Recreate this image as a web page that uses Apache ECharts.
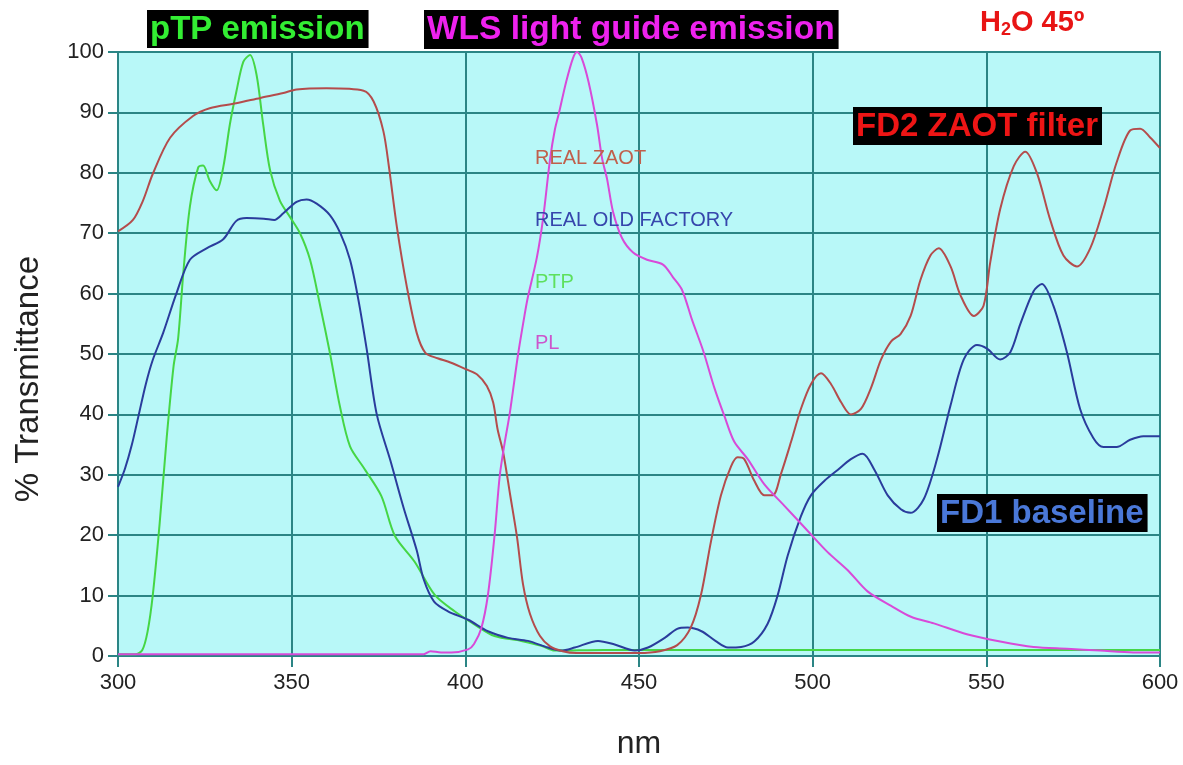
<!DOCTYPE html>
<html>
<head>
<meta charset="utf-8">
<script src="https://cdn.jsdelivr.net/npm/echarts@6/dist/echarts.min.js"></script>
<style>
  html, body { margin: 0; padding: 0; background: #ffffff; }
  #chart { width: 1183px; height: 765px; }
</style>
</head>
<body>
<div id="chart"></div>
<script>
// Axis ticks
const xTicks = [300, 350, 400, 450, 500, 550, 600];
const yTicks = [0, 10, 20, 30, 40, 50, 60, 70, 80, 90, 100];

// REAL ZAOT (FD2 ZAOT filter) transmittance, wavelength in nm
const zaotNm = [300, 304.3, 307.2, 310, 315, 321.6, 326.4, 334, 341, 347.6, 351.4, 360, 370.7, 373.6, 376.4, 378, 380.3, 383.2, 386, 388.5, 392, 395.7, 400.5, 403.4, 406.2, 408, 409.3, 410.9, 412.9, 414.9, 416.6, 418.6, 421.5, 424.4, 428, 432, 440, 450, 456, 461, 464.9, 467.8, 470.7, 473.6, 476.5, 478.4, 480.3, 483.2, 486.1, 488.5, 490.9, 493.8, 496.6, 499.5, 502.4, 505.3, 508.2, 511, 513.9, 516.8, 519.7, 522.6, 525.3, 528.2, 531, 533.9, 536.3, 539.7, 542.5, 546.4, 549.2, 551.1, 554, 557.9, 561.2, 564.6, 568.4, 572.2, 576.1, 579.9, 583.7, 587.5, 591.4, 594.3, 597.1, 600];
const zaotT = [70.3, 72.2, 75.4, 79.8, 85.8, 89.4, 90.7, 91.5, 92.4, 93.2, 93.8, 94, 93.6, 91.8, 86.9, 81, 71, 61, 53.5, 50.2, 49.3, 48.6, 47.4, 46.6, 44.7, 42, 37.5, 33.7, 26.7, 19.6, 11.9, 7, 3.3, 1.6, 0.8, 0.5, 0.5, 0.5, 0.8, 1.8, 4.7, 10, 18.9, 26.6, 31.4, 32.9, 32.6, 29, 26.6, 26.6, 30.2, 35.5, 40.9, 45, 46.8, 45, 42, 40, 40.9, 44.4, 49.1, 52.1, 53.3, 56.3, 62.2, 66.3, 67.5, 64.5, 59.8, 56.3, 58, 65.1, 74, 81.1, 83.5, 79.9, 72.2, 66.3, 64.5, 67.5, 74, 81.7, 87, 87.3, 85.9, 84.1];

// REAL OLD FACTORY (FD1 baseline) transmittance
const factoryNm = [300, 302, 304, 306, 308, 310, 313, 316.8, 320.7, 325.5, 330.3, 334, 337, 342, 345, 347.6, 351.4, 354.3, 357.2, 361, 364, 366.8, 369.2, 371.6, 374.5, 378.4, 382.2, 386, 388, 391, 395, 400.8, 406.5, 412.3, 418, 423.8, 427.6, 431.5, 438.2, 443, 448.8, 452.6, 457.4, 461, 464, 468, 472, 475.6, 479.4, 483.2, 487, 489.9, 492.8, 496.6, 499.5, 503.4, 507.2, 511, 514.4, 517.8, 521.6, 525.4, 528.2, 532, 535.8, 539.7, 543.5, 547.3, 550.2, 554, 556.9, 559.8, 563.6, 566, 569.3, 573.2, 577, 580.8, 583.7, 587.5, 591.4, 595.2, 600];
const factoryT = [28, 31, 35, 40, 45, 49, 53.5, 60, 65.6, 67.5, 69, 72, 72.5, 72.4, 72.2, 73.3, 75.2, 75.6, 74.9, 73, 70, 65.6, 59, 50.8, 40, 32.4, 24.6, 17.5, 12.7, 9, 7.4, 6, 4.1, 3, 2.5, 1.4, 0.9, 1.4, 2.5, 1.9, 0.9, 1.4, 3, 4.5, 4.7, 4.1, 2.5, 1.4, 1.5, 2.4, 5.3, 10, 16.6, 23.1, 26.6, 29, 30.8, 32.6, 33.5, 30.8, 26.6, 24.3, 23.7, 26, 32.6, 41.5, 49.1, 51.5, 50.9, 49.1, 50.3, 55, 60.4, 61.6, 58, 50.3, 40.9, 36.1, 34.6, 34.6, 35.8, 36.4, 36.4];

// PTP emission (normalised)
const ptpNm = [300, 305, 307, 308.5, 310, 312, 314, 316, 317.3, 318.8, 320.7, 323.1, 324.5, 326.4, 328.4, 330.3, 332.2, 334.1, 336.1, 338, 339.9, 341.8, 343.8, 346.6, 349.5, 352.4, 355.3, 358.2, 361, 363.9, 366.8, 370.7, 375.8, 379.7, 385.4, 391.2, 396.9, 402.7, 408.4, 416.1, 421.9, 425.7, 440, 500, 550, 600];
const ptpT = [0.3, 0.3, 1, 4, 10, 22, 36, 48, 52.5, 63.4, 74.4, 80.9, 81.2, 78.7, 77.1, 80.9, 88, 93.5, 98.4, 99.5, 96.2, 88, 80.4, 75.4, 72.7, 70, 65.6, 58, 50.2, 41.3, 34.7, 31.2, 26.5, 19.9, 15.6, 10.1, 7.4, 5.2, 3.3, 2.5, 1.7, 0.9, 1, 1, 1, 1];

// PL (WLS light guide emission, normalised)
const plNm = [300, 350, 388, 390, 393, 396, 400.8, 402.5, 404.6, 406.5, 408.4, 409.9, 411.3, 412.8, 415.2, 417.1, 418, 420.6, 422.4, 424.4, 425.8, 427, 429, 431, 432.2, 433.5, 435.5, 437.9, 439.4, 440.8, 442.5, 445.1, 448.3, 452.3, 456.9, 459.8, 462.4, 465.3, 468.5, 471.7, 474.6, 477.4, 481.3, 486.1, 491.8, 498.6, 504.3, 510.1, 515.8, 522.6, 528.3, 534.9, 544.4, 554, 563.6, 573.2, 582.8, 592.3, 600];
const plT = [0.3, 0.3, 0.3, 0.8, 0.6, 0.6, 1.1, 2, 4.6, 10.1, 19.9, 29.8, 35.2, 40.2, 50, 56.6, 59.4, 66, 72.5, 82.3, 87.2, 90, 95, 99, 100, 99, 95, 88, 82.3, 79, 73.6, 69.2, 66.8, 65.6, 64.8, 62.7, 60.6, 55.6, 50.5, 44.4, 39.7, 35.5, 32.6, 28.4, 24.9, 20.7, 17.2, 14.2, 10.7, 8.3, 6.5, 5.4, 3.6, 2.4, 1.5, 1.2, 0.9, 0.6, 0.6];

const pairs = (xs, ys) => xs.map((x, i) => [x, ys[i]]);

const gridColor = '#2b8585';
const font = 'Liberation Sans, Arial, sans-serif';

function lineSeries(name, xs, ys, color) {
  return {
    name: name,
    type: 'line',
    data: pairs(xs, ys),
    showSymbol: false,
    smooth: 0.3,
    lineStyle: { color: color, width: 2 },
    itemStyle: { color: color },
    z: 3
  };
}

function boxLabel(text, left, top, color, size) {
  return {
    type: 'text',
    left: left,
    top: top,
    z: 10,
    style: {
      text: text,
      fill: color,
      font: 'bold ' + size + 'px ' + font,
      backgroundColor: '#000000',
      padding: [3, 4, 2, 3]
    }
  };
}

function plainLabel(text, left, top, color) {
  return {
    type: 'text',
    left: left,
    top: top,
    z: 10,
    style: { text: text, fill: color, font: '20px ' + font }
  };
}

const chart = echarts.init(document.getElementById('chart'));
chart.setOption({
  backgroundColor: '#ffffff',
  animation: false,
  grid: {
    left: 118, right: 23, top: 52, bottom: 102,
    show: true,
    backgroundColor: '#b8f8f8',
    borderColor: gridColor,
    borderWidth: 2
  },
  xAxis: {
    type: 'value',
    min: xTicks[0],
    max: xTicks[xTicks.length - 1],
    interval: 50,
    name: 'nm',
    nameLocation: 'middle',
    nameGap: 72,
    nameTextStyle: { fontSize: 32, color: '#222', fontFamily: font },
    axisLine: { show: true, lineStyle: { color: gridColor, width: 2 } },
    axisTick: { show: true, length: 11, lineStyle: { color: gridColor, width: 2 } },
    axisLabel: { fontSize: 22, color: '#222', fontFamily: font, margin: 16 },
    splitLine: { show: true, lineStyle: { color: gridColor, width: 2 } }
  },
  yAxis: {
    type: 'value',
    min: yTicks[0],
    max: yTicks[yTicks.length - 1],
    interval: 10,
    axisLine: { show: true, lineStyle: { color: gridColor, width: 2 } },
    axisTick: { show: true, length: 10, lineStyle: { color: gridColor, width: 2 } },
    axisLabel: { fontSize: 22, color: '#222', fontFamily: font, margin: 14 },
    splitLine: { show: true, lineStyle: { color: gridColor, width: 2 } }
  },
  series: [
    lineSeries('PTP', ptpNm, ptpT, '#45d645'),
    lineSeries('REAL OLD FACTORY', factoryNm, factoryT, '#2a3c9c'),
    lineSeries('REAL ZAOT', zaotNm, zaotT, '#b44c4c'),
    lineSeries('PL', plNm, plT, '#d84ad8')
  ],
  graphic: [
    {
      // vertical axis title, reading bottom to top
      type: 'text',
      left: 12,
      top: 256,
      rotation: Math.PI / 2,
      z: 10,
      style: { text: '% Transmittance', fill: '#222', font: '33px ' + font }
    },
    boxLabel('pTP emission', 147, 10, '#33ee33', 33),
    boxLabel('WLS light guide emission', 424, 10, '#ee22ee', 33.5),
    boxLabel('FD2 ZAOT filter', 853, 107, '#ee1515', 33),
    boxLabel('FD1 baseline', 937, 494, '#4a78d8', 33),
    {
      type: 'text',
      left: 980,
      top: 8,
      z: 10,
      style: {
        text: '{a|H}{s|2}{a|O 45º}',
        rich: {
          a: { fill: '#e81515', font: 'bold 29px ' + font },
          s: { fill: '#e81515', font: 'bold 18px ' + font, padding: [16, 0, 0, 0] }
        }
      }
    },
    plainLabel('REAL ZAOT', 535, 148, '#c0604c'),
    plainLabel('REAL OLD FACTORY', 535, 210, '#3646ac'),
    plainLabel('PTP', 535, 272, '#5ee05e'),
    plainLabel('PL', 535, 333, '#cc55cc')
  ]
});
</script>
</body>
</html>
